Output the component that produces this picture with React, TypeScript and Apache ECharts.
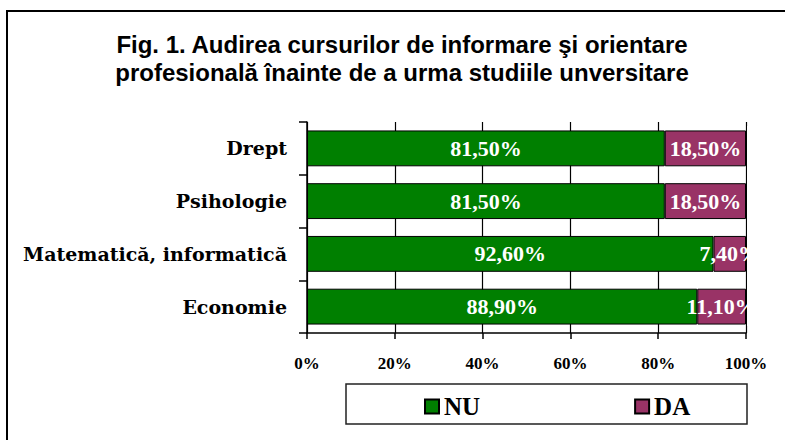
import React, { useEffect, useRef } from "react";
import * as echarts from "echarts";

const categories = ["Economie", "Matematică, informatică", "Psihologie", "Drept"];
const nuValues = [88.9, 92.6, 81.5, 81.5];
const daValues = [11.1, 7.4, 18.5, 18.5];
const xTicks = [0, 20, 40, 60, 80, 100];
const titleLines = [
  "Fig. 1. Audirea cursurilor de informare şi orientare",
  "profesională înainte de a urma studiile unversitare",
];

const SERIF = "'Liberation Serif', 'DejaVu Serif', serif";
const WIDE_SERIF = "'DejaVu Serif', 'Liberation Serif', serif";
const SANS = "'Liberation Sans', Arial, sans-serif";

const fmt = (v: number) => v.toFixed(2).replace(".", ",") + "%";

export default function App() {
  const ref = useRef<HTMLDivElement>(null);
  useEffect(() => {
    if (!ref.current) return;
    const chart = echarts.init(ref.current, null, { renderer: "svg" });
    chart.setOption({
      animation: false,
      backgroundColor: "#ffffff",
      title: {
        text: titleLines.join("\n"),
        left: 397,
        top: 25,
        textAlign: "center",
        textStyle: {
          fontFamily: SANS,
          fontWeight: "bold",
          fontSize: 24,
          lineHeight: 28,
          color: "#000",
        },
      },
      grid: { left: 307, right: 39, top: 122, bottom: 107, containLabel: false },
      xAxis: {
        type: "value",
        min: 0,
        max: 100,
        interval: 20,
        axisLine: { show: true, lineStyle: { color: "#000", width: 1.5 } },
        axisTick: { show: true, length: 6, lineStyle: { color: "#000", width: 1.5 } },
        splitLine: { show: true, lineStyle: { color: "#000", width: 1.2 } },
        axisLabel: {
          margin: 22,
          fontFamily: SERIF,
          fontWeight: "bold",
          fontSize: 17,
          color: "#000",
          formatter: (v: number) => (xTicks.includes(v) ? v + "%" : ""),
        },
      },
      yAxis: {
        type: "category",
        data: categories,
        axisLine: { show: true, lineStyle: { color: "#000", width: 1.5 } },
        axisTick: { show: true, length: 8, lineStyle: { color: "#000", width: 1.5 } },
        splitLine: { show: false },
        axisLabel: {
          margin: 20,
          fontFamily: WIDE_SERIF,
          fontWeight: "bold",
          fontSize: 19,
          color: "#000",
        },
      },
      legend: {
        left: 419,
        top: 389,
        itemWidth: 14,
        itemHeight: 14,
        itemGap: 154,
        icon: "rect",
        textStyle: {
          fontFamily: SERIF,
          fontWeight: "bold",
          fontSize: 25,
          color: "#000",
        },
        data: ["NU", "DA"],
      },
      series: [
        {
          name: "NU",
          type: "bar",
          stack: "total",
          data: nuValues,
          barCategoryGap: "32%",
          itemStyle: { color: "#007f00", borderColor: "#000", borderWidth: 1 },
          label: {
            show: true,
            position: "inside",
            color: "#fff",
            fontFamily: SERIF,
            fontWeight: "bold",
            fontSize: 22,
            formatter: (p: any) => fmt(p.value),
          },
        },
        {
          name: "DA",
          type: "bar",
          stack: "total",
          data: daValues,
          barCategoryGap: "32%",
          itemStyle: { color: "#993366", borderColor: "#000", borderWidth: 1 },
          label: {
            show: true,
            position: "inside",
            color: "#fff",
            fontFamily: SERIF,
            fontWeight: "bold",
            fontSize: 22,
            formatter: (p: any) => fmt(p.value),
          },
        },
      ],
      graphic: [
        {
          type: "rect",
          z: 100,
          shape: { x: 747, y: 126, width: 38, height: 200 },
          style: { fill: "#ffffff" },
        },
        {
          type: "rect",
          z: 101,
          shape: { x: 7, y: 11, width: 800, height: 450 },
          style: { fill: "none", stroke: "#000", lineWidth: 2 },
        },
        {
          type: "rect",
          z: 101,
          shape: { x: 346, y: 384, width: 401, height: 40 },
          style: { fill: "none", stroke: "#222", lineWidth: 1.5 },
        },
      ],
    });
    return () => chart.dispose();
  }, []);
  return (
    <div
      ref={ref}
      style={{ position: "fixed", left: 0, top: 0, width: 785, height: 440 }}
    />
  );
}
